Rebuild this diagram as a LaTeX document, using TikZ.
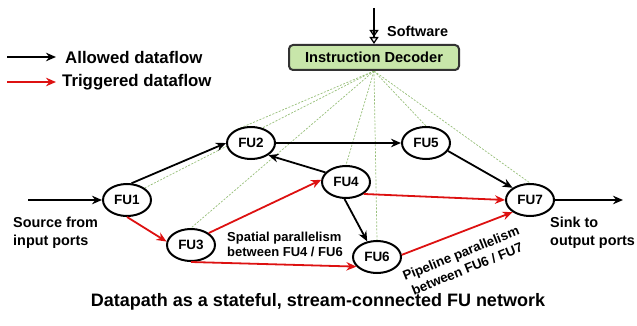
\documentclass[tikz,border=0pt]{standalone}
\usepackage{fontspec}
\setmainfont{Liberation Sans}
\usetikzlibrary{arrows.meta,shapes.geometric}
\definecolor{flowred}{HTML}{DD1111}
\definecolor{decfill}{HTML}{C8E6AA}
\definecolor{ctrlgreen}{HTML}{96BE78}
\definecolor{decborder}{HTML}{333333}
\pgfdeclarelayer{background}
\pgfsetlayers{background,main}

\begin{document}
\begin{tikzpicture}[x=1pt,y=-1pt,
  fu/.style={ellipse, draw=black, line width=2pt, fill=white,
    minimum width=48pt, minimum height=32pt, inner sep=0pt,
    font=\bfseries\fontsize{13.5}{15}\selectfont},
  flow/.style={line width=1.8pt, -{Stealth[length=10pt,width=8.5pt]}},
  allowed/.style={flow, draw=black},
  trig/.style={flow, draw=flowred},
  ctrl/.style={draw=ctrlgreen, line width=0.7pt, dash pattern=on 2pt off 1.5pt},
  lbl/.style={font=\bfseries\fontsize{14.4}{18}\selectfont, inner sep=0pt},
  note/.style={font=\bfseries\fontsize{13.3}{16.5}\selectfont, inner sep=0pt},
]
\useasboundingbox (0,0) rectangle (637,326);

% legend
\coordinate (la0) at (7,57);   \coordinate (la1) at (56,57);
\coordinate (lt0) at (7,82);   \coordinate (lt1) at (56,82);
\draw[allowed] (la0) -- (la1);
\draw[trig] (lt0) -- (lt1);
\node[lbl, font=\bfseries\fontsize{16.8}{20}\selectfont, anchor=west] (legA) at (65,57) {Allowed dataflow};
\node[lbl, font=\bfseries\fontsize{16.8}{20}\selectfont, anchor=west] (legT) at (62,82) {Triggered dataflow};

% instruction decoder
\node[draw=decborder, fill=decfill, line width=2pt, rounded corners=4pt,
      minimum width=170pt, minimum height=25pt, inner sep=0pt,
      font=\bfseries\fontsize{14.6}{17}\selectfont] (dec) at (374,57.5) {Instruction Decoder};
\coordinate (swtop) at (374,8);
\draw[line width=1.5pt, -{Triangle[open,length=7pt,width=9pt,line width=1.3pt]Triangle[open,length=7pt,width=9pt,line width=1.3pt]}]
  (swtop) -- (dec.north);
\node[lbl, anchor=west] (sw) at (387,31) {Software};

% functional units
\node[fu] (FU1) at (127,200) {FU1};
\node[fu] (FU2) at (251,143) {FU2};
\node[fu] (FU3) at (191,245) {FU3};
\node[fu] (FU4) at (346,182) {FU4};
\node[fu] (FU5) at (426,143) {FU5};
\node[fu] (FU6) at (377,257) {FU6};
\node[fu] (FU7) at (530,200) {FU7};

% control lines from the decoder
\begin{pgfonlayer}{background}
  \draw[ctrl] (dec.south) -- (FU1.north east);
  \draw[ctrl] (dec.south) -- (FU2.north west);
  \draw[ctrl] (dec.south) -- (FU3.north);
  \draw[ctrl] (dec.south) -- (FU4.north);
  \draw[ctrl] (dec.south) -- (FU5.north);
  \draw[ctrl] (dec.south) -- (FU6.north);
  \draw[ctrl] (dec.south) -- (FU7.north);
\end{pgfonlayer}

% ports
\coordinate (src) at (28,200);
\coordinate (sink) at (623,200);
\draw[allowed] (src) -- (FU1.west);
\draw[allowed] (FU7.east) -- (sink);
\node[lbl, anchor=west, align=left] (srcl) at (13,233) {Source from\\input ports};
\node[lbl, anchor=west, align=left] (sinkl) at (550,233) {Sink to\\output ports};

% allowed dataflow
\draw[allowed] (FU1.75) -- (FU2.west);
\draw[allowed] (FU2.east) -- (FU5.west);
\draw[allowed] (FU4.155) -- (FU2.-35);
\draw[allowed] (FU4.-95) -- (FU6.122);
\draw[allowed] (FU5.-20) -- (FU7.145);

% triggered dataflow
\draw[trig] (FU1.-90) -- (FU3.172);
\draw[trig] (FU3.34) -- (FU4.175);
\draw[trig] (FU3.-90) -- (FU6.205);
\draw[trig] (FU4.-34) -- (FU7.west);
\draw[trig] (FU6.5) -- (FU7.215);

% annotations
\node[note, anchor=west, align=left, font=\bfseries\fontsize{13}{15}\selectfont] (spat) at (227,244) {Spatial parallelism\\between FU4 / FU6};
\node[note, align=center, rotate=22] (pipe) at (464,261) {Pipeline parallelism\\between FU6 / FU7};

\node[font=\bfseries\fontsize{18}{21}\selectfont, inner sep=0pt] (cap) at (318,302)
  {Datapath as a stateful, stream-connected FU network};
\end{tikzpicture}
\end{document}
